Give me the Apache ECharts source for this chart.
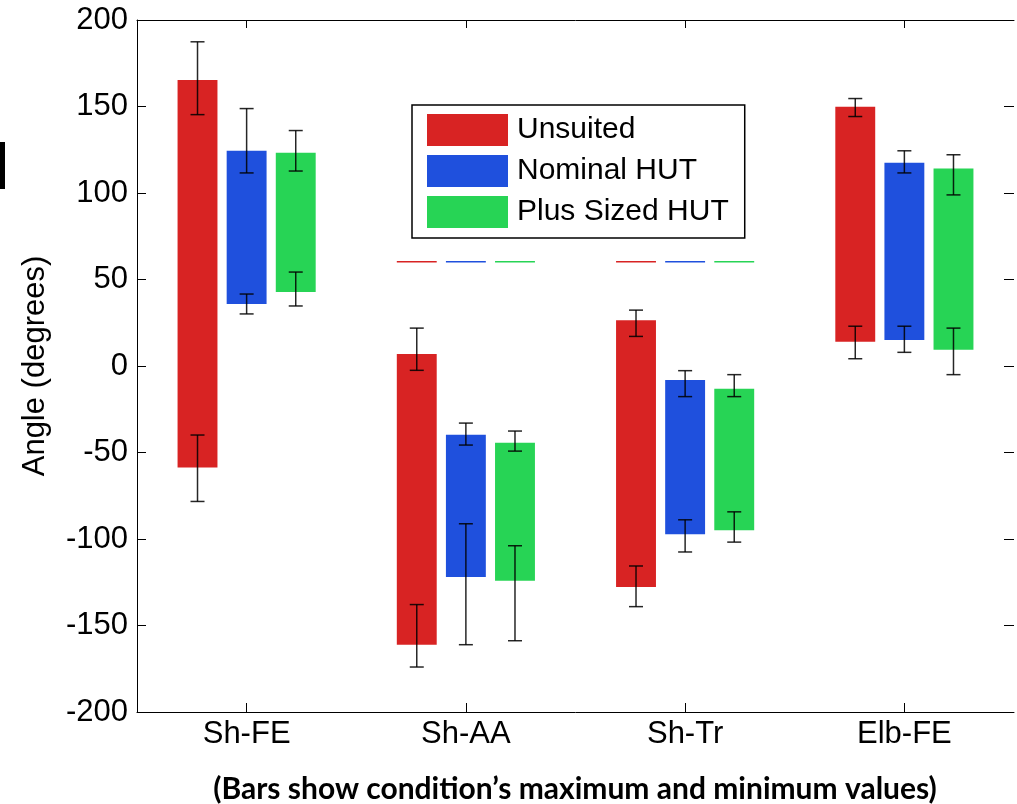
<!DOCTYPE html>
<html>
<head>
<meta charset="utf-8">
<script src="https://cdn.jsdelivr.net/npm/echarts@6/dist/echarts.min.js"></script>
<style>
html,body{margin:0;padding:0;background:#fff;}
#chart{width:1017px;height:804px;}
</style>
</head>
<body>
<div id="chart"></div>
<script>
// ---- data (degrees) ----
const categories = ['Sh-FE', 'Sh-AA', 'Sh-Tr', 'Elb-FE'];
const seriesNames = ['Unsuited', 'Nominal HUT', 'Plus Sized HUT'];
const yTicks = [-200, -150, -100, -50, 0, 50, 100, 150, 200];

// Unsuited
const unsuitedMax      = [165.3,   6.9,   26.5, 149.8];
const unsuitedMin      = [-58.6, -161.1, -127.7,  14.0];
const unsuitedMaxErrHi = [187.4,  21.9,   32.3, 154.6];
const unsuitedMaxErrLo = [145.3,  -2.5,   17.1, 144.2];
const unsuitedMinErrHi = [-39.9, -137.9, -115.6, 23.0];
const unsuitedMinErrLo = [-78.3, -174.0, -139.1,  4.2];

// Nominal HUT
const nominalMax      = [124.4, -39.7,  -8.1, 117.5];
const nominalMin      = [ 35.9, -121.9, -97.2, 15.0];
const nominalMaxErrHi = [148.8, -33.0,  -2.7, 124.4];
const nominalMaxErrLo = [111.6, -45.7, -17.7, 111.6];
const nominalMinErrHi = [ 41.6, -91.2, -88.9,  23.0];
const nominalMinErrLo = [ 30.1, -161.1, -107.5, 7.9];

// Plus Sized HUT
const plusMax      = [123.3, -44.4, -13.2, 114.1];
const plusMin      = [ 42.8, -124.2, -94.9,  9.4];
const plusMaxErrHi = [136.1, -37.6,  -5.0, 122.1];
const plusMaxErrLo = [112.7, -49.2, -17.7,  98.9];
const plusMinErrHi = [ 54.3, -103.9, -84.3, 21.9];
const plusMinErrLo = [ 34.7, -158.8, -101.8, -5.0];

// short flat marks seen at Sh-AA and Sh-Tr
const flatMark = [null, 60.3, 60.3, null];

const colors = ['#d82323', '#1f50dd', '#27d455'];
const FONT = '"Liberation Sans", Arial, sans-serif';

function rows(mx, mn, a, b, c, d) {
  return categories.map((_, i) => [i, mx[i], mn[i], a[i], b[i], c[i], d[i], flatMark[i] == null ? '-' : flatMark[i]]);
}
const seriesRows = [
  rows(unsuitedMax, unsuitedMin, unsuitedMaxErrHi, unsuitedMaxErrLo, unsuitedMinErrHi, unsuitedMinErrLo),
  rows(nominalMax, nominalMin, nominalMaxErrHi, nominalMaxErrLo, nominalMinErrHi, nominalMinErrLo),
  rows(plusMax, plusMin, plusMaxErrHi, plusMaxErrLo, plusMinErrHi, plusMinErrLo)
];

function makeRender(si) {
  return function (params, api) {
    const cat = api.value(0);
    const base = api.coord([cat, 0]);
    const band = api.size([1, 0])[0];
    const bw = band * 0.182;
    const pitch = band * 0.224;
    const cx = base[0] + (si - 1) * pitch;
    const y = v => api.coord([cat, v])[1];
    const yTop = y(api.value(1)), yBot = y(api.value(2));
    const cap = 7;
    const errStyle = { stroke: 'rgba(0,0,0,0.85)', lineWidth: 1.5 };
    const children = [{
      type: 'rect',
      shape: { x: cx - bw / 2, y: yTop, width: bw, height: yBot - yTop },
      style: { fill: colors[si] }
    }];
    function errBar(hi, lo) {
      const y1 = y(hi), y2 = y(lo);
      children.push({ type: 'line', shape: { x1: cx, y1: y1, x2: cx, y2: y2 }, style: errStyle });
      children.push({ type: 'line', shape: { x1: cx - cap, y1: y1, x2: cx + cap, y2: y1 }, style: errStyle });
      children.push({ type: 'line', shape: { x1: cx - cap, y1: y2, x2: cx + cap, y2: y2 }, style: errStyle });
    }
    errBar(api.value(3), api.value(4));
    errBar(api.value(5), api.value(6));
    const fm = api.value(7);
    if (fm != null && !isNaN(fm)) {
      const yy = y(fm);
      children.push({ type: 'line', shape: { x1: cx - bw / 2, y1: yy, x2: cx + bw / 2, y2: yy }, style: { stroke: colors[si], lineWidth: 1.5 } });
    }
    return { type: 'group', children: children };
  };
}

const chart = echarts.init(document.getElementById('chart'), null, { renderer: 'canvas' });
chart.setOption({
  animation: false,
  backgroundColor: '#fff',
  grid: { left: 137, right: 3, top: 20, bottom: 92 },
  legend: {
    orient: 'vertical',
    left: 412, top: 105,
    data: seriesNames.map((n, i) => ({ name: n, icon: 'rect', itemStyle: { color: colors[i] } })),
    itemWidth: 81, itemHeight: 32, itemGap: 9,
    padding: [9, 16, 10, 15],
    borderColor: '#000', borderWidth: 1.5,
    backgroundColor: '#fff',
    textStyle: { fontFamily: FONT, fontSize: 30, color: '#000', padding: [0, 0, 0, 4] },
    selectedMode: false
  },
  xAxis: [{
    type: 'category', data: categories, position: 'bottom',
    axisLine: { show: true, onZero: false, lineStyle: { color: '#000', width: 1 } },
    axisTick: { show: true, inside: true, alignWithLabel: true, length: 9, lineStyle: { color: '#000' } },
    axisLabel: { fontFamily: FONT, fontSize: 31, color: '#000', margin: 7 },
    splitLine: { show: false }
  }, {
    type: 'category', data: categories, position: 'top',
    axisLine: { show: true, onZero: false, lineStyle: { color: '#000', width: 1 } },
    axisTick: { show: true, inside: true, alignWithLabel: true, length: 8, lineStyle: { color: '#000' } },
    axisLabel: { show: false },
    splitLine: { show: false }
  }],
  yAxis: [{
    type: 'value', min: yTicks[0], max: yTicks[yTicks.length - 1], interval: 50, position: 'left',
    name: 'Angle (degrees)', nameLocation: 'middle', nameGap: 86,
    nameTextStyle: { fontFamily: FONT, fontSize: 31, color: '#000' },
    axisLine: { show: true, onZero: false, lineStyle: { color: '#000', width: 1 } },
    axisTick: { show: true, inside: true, length: 9, lineStyle: { color: '#000' } },
    axisLabel: { fontFamily: FONT, fontSize: 31, color: '#000', margin: 9 },
    splitLine: { show: false }
  }, {
    type: 'value', min: yTicks[0], max: yTicks[yTicks.length - 1], interval: 50, position: 'right',
    axisLine: { show: false, onZero: false },
    axisTick: { show: true, inside: true, length: 10, lineStyle: { color: '#000' } },
    axisLabel: { show: false },
    splitLine: { show: false }
  }],
  graphic: [{
    type: 'rect', left: 0, top: 142, shape: { width: 5, height: 47 }, style: { fill: '#000' }
  }, {
    type: 'text', x: 575, y: 789,
    style: {
      text: '(Bars show condition\u2019s maximum and minimum values)',
      font: 'bold 30px Lato, "Liberation Sans", sans-serif',
      fill: '#000', align: 'center', verticalAlign: 'middle'
    }
  }],
  series: seriesNames.map((n, si) => ({
    name: n, type: 'custom',
    xAxisIndex: 0, yAxisIndex: 0,
    itemStyle: { color: colors[si] },
    renderItem: makeRender(si),
    encode: { x: 0, y: [1, 2] },
    data: seriesRows[si]
  }))
});
</script>
</body>
</html>
